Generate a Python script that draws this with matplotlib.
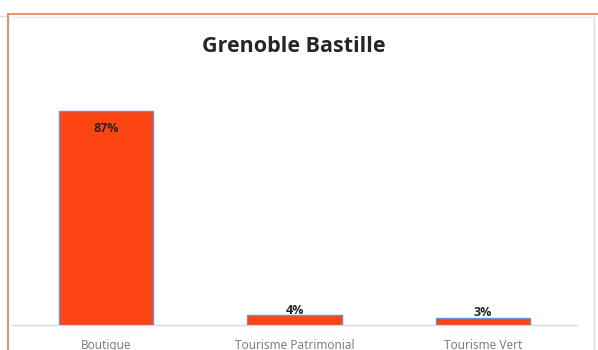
import matplotlib.pyplot as plt
from matplotlib.lines import Line2D

# data
categories = ["Boutique", "Tourisme Patrimonial", "Tourisme Vert"]
values = [87, 4, 3]
title = "Grenoble Bastille"

W, H = 598, 350
fig = plt.figure(figsize=(W / 100, H / 100), dpi=100)
plt.rcParams['font.family'] = ['Noto Sans', 'DejaVu Sans']
bold_font = ['Open Sans', 'DejaVu Sans']

# plot area, in pixel terms of the reference
ax = fig.add_axes([12 / W, 25 / H, 565 / W, 246 / H])
ax.bar(range(len(categories)), values, width=0.5, color="#FC4513",
       edgecolor="#6F8FCF", linewidth=1.0, zorder=3)
ax.set_xlim(-0.5, len(categories) - 0.5)
ax.set_ylim(0, 100)

for i, v in enumerate(values):
    if v > 20:
        ax.text(i, v - 7, f"{v}%", ha="center", va="center", family=bold_font,
                fontsize=9, fontweight="bold", color="#262626", zorder=4)
    else:
        ax.text(i, v - 0.6, f"{v}%", ha="center", va="bottom", family=bold_font,
                fontsize=9, fontweight="bold", color="#262626", zorder=4)

for s in ["top", "right", "left"]:
    ax.spines[s].set_visible(False)
ax.spines["bottom"].set_color("#D9D9D9")
ax.spines["bottom"].set_linewidth(1.0)
ax.set_yticks([])
ax.set_xticks(range(len(categories)))
ax.set_xticklabels(categories, fontsize=8.5, color="#7F7F7F")
ax.tick_params(axis="x", length=0, pad=10)

fig.text(294 / W, 1 - 46 / H, title, ha="center", va="center", family=bold_font,
         fontsize=15.5, fontweight="bold", color="#262626")

# chart frame decoration
def px_line(x0, y0, x1, y1, color, lw):
    fig.add_artist(Line2D([x0 / W, x1 / W], [1 - y0 / H, 1 - y1 / H],
                          color=color, linewidth=lw, transform=fig.transFigure))

px_line(0, 15.5, 8, 15.5, "#DDDDDD", 1.0)
px_line(8, 14, W, 14, "#F08060", 1.3)
px_line(8, 14, 8, H, "#F08060", 1.3)
px_line(9, 17, 594, 17, "#EEEEEE", 1.0)
px_line(594, 17, 594, H, "#DDDDDD", 1.0)

fig.savefig("out.png", dpi=100)
